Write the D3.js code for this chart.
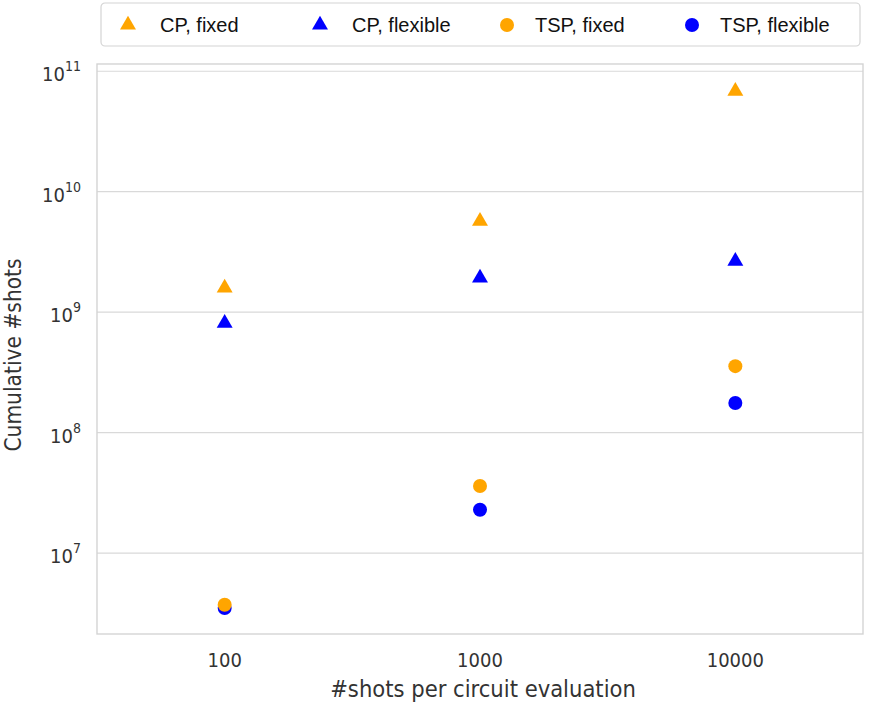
<!doctype html>
<html lang="en">
<head>
<meta charset="utf-8" />
<title>Cumulative shots</title>
<script src="https://d3js.org/d3.v7.min.js"></script>
<style>
  body { margin: 0; background: #fff; }
  svg text { font-family: "DejaVu Sans Condensed", "DejaVu Sans", sans-serif; fill: #333; }
  .legend text { font-family: "Liberation Sans", Arial, sans-serif; fill: #111; }
</style>
</head>
<body>
<div id="chart"></div>
<script>
// data
const shotsPerEval = ["100", "1000", "10000"];
const cpFixed = [1.62e9, 5.8e9, 6.95e10];
const cpFlexible = [8.25e8, 1.96e9, 2.7e9];
const tspFixed = [3.72e6, 3.6e7, 3.56e8];
const tspFlexible = [3.5e6, 2.29e7, 1.76e8];
const yTicks = [1e7, 1e8, 1e9, 1e10, 1e11];

const series = [
  { name: "CP, fixed", values: cpFixed, color: "#FFA500", shape: "tri" },
  { name: "CP, flexible", values: cpFlexible, color: "#0000FF", shape: "tri" },
  { name: "TSP, fixed", values: tspFixed, color: "#FFA500", shape: "dot" },
  { name: "TSP, flexible", values: tspFlexible, color: "#0000FF", shape: "dot" }
];

const W = 870, H = 707;
const plotL = 97, plotR = 863, plotT = 64, plotB = 634;

const svg = d3.select("#chart").append("svg")
  .attr("width", W).attr("height", H);

const x = d3.scalePoint()
  .domain(shotsPerEval)
  .range([plotL, plotR])
  .padding(0.5);

const y = d3.scaleLog()
  .domain([Math.pow(10, 6.328), Math.pow(10, 11.06)])
  .range([plotB, plotT]);

// grid lines
svg.append("g")
  .selectAll("line")
  .data(yTicks)
  .join("line")
  .attr("x1", plotL).attr("x2", plotR)
  .attr("y1", d => y(d)).attr("y2", d => y(d))
  .attr("stroke", "#d9d9d9").attr("stroke-width", 1.2);

// frame
svg.append("rect")
  .attr("x", plotL).attr("y", plotT)
  .attr("width", plotR - plotL).attr("height", plotB - plotT)
  .attr("fill", "none").attr("stroke", "#d4d4d4").attr("stroke-width", 1.4);

// y tick labels 10^n
const yLab = svg.append("g").selectAll("text")
  .data(yTicks)
  .join("text")
  .attr("x", 81)
  .attr("y", d => y(d) + 10)
  .attr("text-anchor", "end")
  .style("font-size", "20px");
yLab.append("tspan").text("10");
yLab.append("tspan")
  .attr("dy", -10)
  .style("font-size", "14px")
  .text(d => Math.round(Math.log10(d)));

// x tick labels
svg.append("g").selectAll("text")
  .data(shotsPerEval)
  .join("text")
  .attr("x", d => x(d))
  .attr("y", 667)
  .attr("text-anchor", "middle")
  .style("font-size", "20px")
  .text(d => d);

// axis titles
svg.append("text")
  .attr("x", 483)
  .attr("y", 697)
  .attr("text-anchor", "middle")
  .style("font-size", "23.5px")
  .text("#shots per circuit evaluation");

svg.append("text")
  .attr("transform", `translate(21,355) rotate(-90)`)
  .attr("text-anchor", "middle")
  .style("font-size", "22.5px")
  .text("Cumulative #shots");

const tri = d3.symbol().type(d3.symbolTriangle).size(110);

function drawMarker(g, s) {
  if (s.shape === "tri") {
    g.append("path").attr("d", tri).attr("fill", s.color);
  } else {
    g.append("circle").attr("r", 7).attr("fill", s.color);
  }
}

// points: flexible drawn first, fixed on top
const drawOrder = [series[1], series[3], series[0], series[2]];
drawOrder.forEach(s => {
  s.values.forEach((v, i) => {
    const g = svg.append("g")
      .attr("transform", `translate(${x(shotsPerEval[i])},${y(v) + (s.shape === "tri" ? 1 : 0)})`);
    drawMarker(g, s);
  });
});

// legend
const legend = svg.append("g").attr("class", "legend");
legend.append("rect")
  .attr("x", 101).attr("y", 3)
  .attr("width", 759).attr("height", 43)
  .attr("rx", 4)
  .attr("fill", "#fff").attr("stroke", "#d4d4d4").attr("stroke-width", 1.2);

const legX = [128, 320, 507, 692];
series.forEach((s, i) => {
  const g = legend.append("g").attr("transform", `translate(${legX[i]},25)`);
  drawMarker(g, s);
  legend.append("text")
    .attr("x", legX[i] + (i < 2 ? 32 : 28))
    .attr("y", 32)
    .style("font-size", "20px")
    .text(s.name);
});
</script>
</body>
</html>
